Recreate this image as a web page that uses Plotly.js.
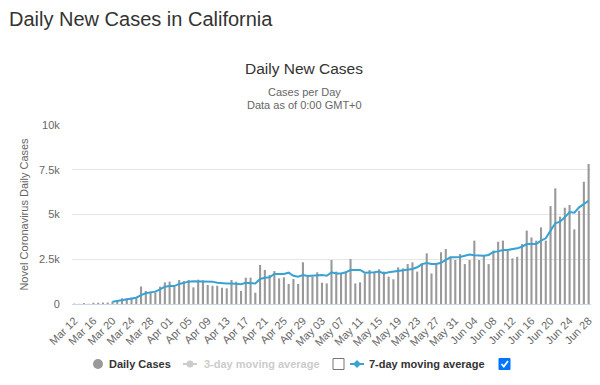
<!DOCTYPE html>
<html>
<head>
<meta charset="utf-8">
<script src="https://cdn.plot.ly/plotly-3.0.1.min.js"></script>
<style>
html, body { margin: 0; padding: 0; background: #ffffff; }
#chart { width: 600px; height: 385px; }
</style>
</head>
<body>
<div id="chart"></div>
<script>
// ---- data ----
const dates = [
  "Mar 12","Mar 13","Mar 14","Mar 15","Mar 16","Mar 17","Mar 18","Mar 19","Mar 20","Mar 21",
  "Mar 22","Mar 23","Mar 24","Mar 25","Mar 26","Mar 27","Mar 28","Mar 29","Mar 30","Mar 31",
  "Apr 01","Apr 02","Apr 03","Apr 04","Apr 05","Apr 06","Apr 07","Apr 08","Apr 09","Apr 10",
  "Apr 11","Apr 12","Apr 13","Apr 14","Apr 15","Apr 16","Apr 17","Apr 18","Apr 19","Apr 20",
  "Apr 21","Apr 22","Apr 23","Apr 24","Apr 25","Apr 26","Apr 27","Apr 28","Apr 29","Apr 30",
  "May 01","May 02","May 03","May 04","May 05","May 06","May 07","May 08","May 09","May 10",
  "May 11","May 12","May 13","May 14","May 15","May 16","May 17","May 18","May 19","May 20",
  "May 21","May 22","May 23","May 24","May 25","May 26","May 27","May 28","May 29","May 30",
  "May 31","Jun 01","Jun 02","Jun 03","Jun 04","Jun 05","Jun 06","Jun 07","Jun 08","Jun 09",
  "Jun 10","Jun 11","Jun 12","Jun 13","Jun 14","Jun 15","Jun 16","Jun 17","Jun 18","Jun 19",
  "Jun 20","Jun 21","Jun 22","Jun 23","Jun 24","Jun 25","Jun 26","Jun 27","Jun 28"
];

const tickLabels = [
  "Mar 12","Mar 16","Mar 20","Mar 24","Mar 28","Apr 01","Apr 05","Apr 09","Apr 13","Apr 17",
  "Apr 21","Apr 25","Apr 29","May 03","May 07","May 11","May 15","May 19","May 23","May 27",
  "May 31","Jun 04","Jun 08","Jun 12","Jun 16","Jun 20","Jun 24","Jun 28"
];

const dailyCases = [
  20, 10, 50, 10, 70, 70, 80, 80, 130, 170,
  320, 320, 350, 320, 980, 730, 690, 650, 970, 1210,
  1250, 970, 1340, 1280, 1340, 930, 1360, 1320, 1060, 1020,
  1020, 910, 875, 1340, 1250, 730, 1470, 1470, 630, 2180,
  1900, 1620, 1840, 1430, 1490, 1120, 1400, 1120, 2330, 1530,
  1530, 1770, 1190, 1150, 2460, 1810, 1710, 1770, 2510, 1150,
  1210, 1710, 1900, 1770, 1940, 1810, 1530, 1380, 2050, 1990,
  2230, 2330, 1810, 2270, 2830, 1710, 2180, 2890, 3070, 2640,
  2460, 2790, 2230, 2460, 3540, 2460, 2700, 2230, 2980, 3480,
  3540, 2980, 2550, 2640, 3350, 4100, 3720, 3540, 4280, 3540,
  5470, 6460, 4880, 5380, 5530, 4170, 5210, 6830, 7820
];

const movingAvg7 = [
  null, null, null, null, null, null, null, null, 130, 170,
  220, 260, 280, 350, 500, 600, 650, 690, 820, 970,
  1000, 1000, 1120, 1190, 1250, 1270, 1270, 1280, 1280, 1250,
  1190, 1150, 1150, 1150, 1130, 1100, 1190, 1190, 1150, 1400,
  1470, 1490, 1680, 1680, 1680, 1750, 1580, 1530, 1620, 1570,
  1580, 1620, 1620, 1580, 1770, 1710, 1710, 1770, 1900, 1900,
  1900, 1750, 1750, 1770, 1810, 1710, 1770, 1810, 1840, 1880,
  1930, 1960, 2050, 2230, 2290, 2230, 2230, 2300, 2460, 2610,
  2610, 2630, 2700, 2770, 2720, 2700, 2690, 2740, 2910, 2940,
  3020, 3020, 3050, 3110, 3200, 3350, 3350, 3350, 3540, 3670,
  4100, 4510, 4600, 4840, 5140, 5100, 5400, 5590, 5770
];

const yTickVals = [0, 2500, 5000, 7500, 10000];
const yTickText = ["0", "2.5k", "5k", "7.5k", "10k"];

// ---- layout helpers ----
const W = 600, H = 385;
const M = { l: 72, r: 9, t: 125, b: 81 };
const PW = W - M.l - M.r, PH = H - M.t - M.b;
const px = x => (x - M.l) / PW;          // page px -> paper x
const py = y => (H - M.b - y) / PH;      // page px -> paper y

const FONT = "Liberation Sans, Arial, Helvetica, sans-serif";
const BAR = "#999999";
const BLUE = "#37a2d3";

const traces = [
  {
    type: "bar",
    name: "Daily Cases",
    x: dates,
    y: dailyCases,
    marker: { color: BAR },
    hoverinfo: "skip"
  },
  {
    type: "scatter",
    mode: "lines",
    name: "7-day moving average",
    x: dates,
    y: movingAvg7,
    line: { color: BLUE, width: 2 },
    connectgaps: false,
    hoverinfo: "skip"
  }
];

const legendY = 364;
const shapes = [
  // Daily Cases marker
  { type: "circle", xref: "paper", yref: "paper",
    x0: px(93), x1: px(103), y0: py(369), y1: py(359),
    fillcolor: BAR, line: { width: 0 } },
  // 3-day symbol (hidden series)
  { type: "line", xref: "paper", yref: "paper",
    x0: px(183), x1: px(197), y0: py(legendY), y1: py(legendY),
    line: { color: "#cccccc", width: 2 } },
  { type: "circle", xref: "paper", yref: "paper",
    x0: px(186.5), x1: px(193.5), y0: py(367.5), y1: py(360.5),
    fillcolor: "#cccccc", line: { width: 0 } },
  // empty checkbox
  { type: "rect", xref: "paper", yref: "paper",
    x0: px(333), x1: px(344), y0: py(369.5), y1: py(358.5),
    fillcolor: "#ffffff", line: { color: "#767676", width: 1 } },
  // 7-day symbol
  { type: "line", xref: "paper", yref: "paper",
    x0: px(350), x1: px(364), y0: py(legendY), y1: py(legendY),
    line: { color: BLUE, width: 2 } },
  { type: "path", xref: "paper", yref: "paper",
    path: `M ${px(357)} ${py(360)} L ${px(361)} ${py(364)} L ${px(357)} ${py(368)} L ${px(353)} ${py(364)} Z`,
    fillcolor: BLUE, line: { width: 0 } },
  // checked checkbox
  { type: "rect", xref: "paper", yref: "paper",
    x0: px(499), x1: px(510), y0: py(369.5), y1: py(358.5),
    fillcolor: "#0075ff", line: { color: "#0075ff", width: 1 } },
  { type: "path", xref: "paper", yref: "paper",
    path: `M ${px(501.5)} ${py(364)} L ${px(503.8)} ${py(366.5)} L ${px(508)} ${py(361)}`,
    line: { color: "#ffffff", width: 1.8 } }
];

const annotations = [
  { text: "Daily New Cases in California", xref: "paper", yref: "paper",
    x: px(7), y: py(19), xanchor: "left", yanchor: "middle", showarrow: false,
    font: { family: FONT, size: 20, color: "#333333" } },
  { text: "Cases per Day", xref: "paper", yref: "paper",
    x: px(304), y: py(92), xanchor: "center", yanchor: "middle", showarrow: false,
    font: { family: FONT, size: 11, color: "#666666" } },
  { text: "Data as of 0:00 GMT+0", xref: "paper", yref: "paper",
    x: px(304), y: py(105), xanchor: "center", yanchor: "middle", showarrow: false,
    font: { family: FONT, size: 11, color: "#666666" } },
  { text: "<b>Daily Cases</b>", xref: "paper", yref: "paper",
    x: px(107), y: py(legendY), xanchor: "left", yanchor: "middle", showarrow: false,
    font: { family: FONT, size: 11, color: "#333333" } },
  { text: "<b>3-day moving average</b>", xref: "paper", yref: "paper",
    x: px(202), y: py(legendY), xanchor: "left", yanchor: "middle", showarrow: false,
    font: { family: FONT, size: 11, color: "#cccccc" } },
  { text: "<b>7-day moving average</b>", xref: "paper", yref: "paper",
    x: px(367), y: py(legendY), xanchor: "left", yanchor: "middle", showarrow: false,
    font: { family: FONT, size: 11, color: "#333333" } }
];

const layout = {
  width: W, height: H,
  autosize: false,
  margin: M,
  paper_bgcolor: "#ffffff",
  plot_bgcolor: "#ffffff",
  showlegend: false,
  bargap: 0.56,
  font: { family: FONT, color: "#666666" },
  title: {
    text: "Daily New Cases",
    xref: "container", yref: "container",
    x: 304 / W, y: 1 - 69 / H,
    xanchor: "center", yanchor: "middle",
    font: { family: FONT, size: 15.5, color: "#333333" }
  },
  xaxis: {
    type: "category",
    range: [-0.5, dates.length - 0.5],
    tickmode: "array",
    tickvals: tickLabels,
    ticktext: tickLabels,
    tickangle: -45,
    tickfont: { family: FONT, size: 11, color: "#666666" },
    ticks: "outside", ticklen: 5, tickcolor: "rgba(0,0,0,0)",
    showgrid: false,
    showline: true, linecolor: "#ccd6eb", linewidth: 1,
    zeroline: false,
    fixedrange: true
  },
  yaxis: {
    range: [0, 10000],
    tickmode: "array",
    tickvals: yTickVals,
    ticktext: yTickText,
    tickfont: { family: FONT, size: 11, color: "#666666" },
    ticks: "outside", ticklen: 9, tickcolor: "rgba(0,0,0,0)",
    showgrid: true, gridcolor: "#e6e6e6", gridwidth: 1,
    zeroline: false, showline: false,
    title: { text: "Novel Coronavirus Daily Cases", standoff: 8,
             font: { family: FONT, size: 11, color: "#666666" } },
    fixedrange: true
  },
  shapes: shapes,
  annotations: annotations
};

Plotly.newPlot("chart", traces, layout, { staticPlot: true, displayModeBar: false });
</script>
</body>
</html>
